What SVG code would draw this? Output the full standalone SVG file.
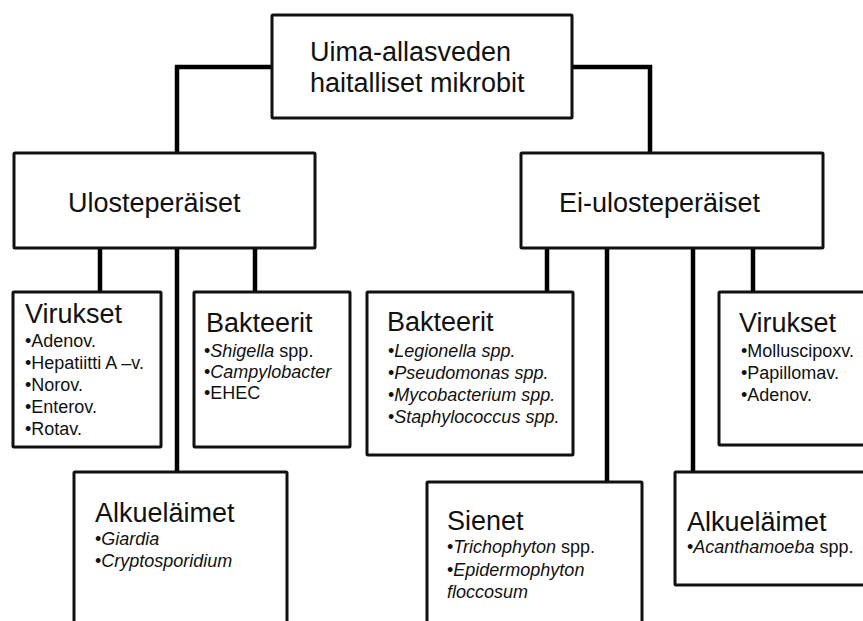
<svg xmlns="http://www.w3.org/2000/svg" width="863" height="621" viewBox="0 0 863 621">
<style>
.box{fill:#fff;stroke:#111;stroke-width:3}
.con{stroke:#000;stroke-width:4.5;fill:none;stroke-linecap:butt}
.h{font-family:"Liberation Sans",Arial,sans-serif;font-size:27px;fill:#111}
.it{font-family:"Liberation Sans",Arial,sans-serif;font-size:18px;fill:#111}
.i{font-style:italic}
</style>
<rect width="863" height="621" fill="#fff"/>
<g id="connectors">
<path class="con" d="M272 67 H177 V153"/>
<path class="con" d="M572 67 H650 V153"/>
<path class="con" d="M100 248 V292"/>
<path class="con" d="M177 248 V472"/>
<path class="con" d="M255 248 V292"/>
<path class="con" d="M547 248 V292"/>
<path class="con" d="M607 248 V482"/>
<path class="con" d="M693 248 V472"/>
<path class="con" d="M753 248 V292"/>
</g>
<g id="root">
<rect class="box" x="272" y="15" width="300" height="103" rx="1"/>
<text class="h" x="310" y="61">Uima-allasveden</text>
<text class="h" x="310" y="92">haitalliset mikrobit</text>
</g>
<g id="uloste">
<rect class="box" x="14" y="153" width="301" height="95" rx="1"/>
<text class="h" x="68" y="212">Ulosteperäiset</text>
</g>
<g id="eiuloste">
<rect class="box" x="521" y="153" width="302" height="95" rx="1"/>
<text class="h" x="559" y="212">Ei-ulosteperäiset</text>
</g>
<g id="virukset1">
<rect class="box" x="13" y="292" width="148" height="155" rx="1"/>
<text class="h" x="25" y="323">Virukset</text>
<text class="it" x="25" y="347">•Adenov.</text>
<text class="it" x="25" y="369">•Hepatiitti A –v.</text>
<text class="it" x="25" y="391">•Norov.</text>
<text class="it" x="25" y="413">•Enterov.</text>
<text class="it" x="25" y="435">•Rotav.</text>
</g>
<g id="bakteerit1">
<rect class="box" x="194" y="292" width="156" height="155" rx="1"/>
<text class="h" x="206" y="332">Bakteerit</text>
<text class="it" x="204" y="357">•<tspan class="i">Shigella</tspan> spp.</text>
<text class="it" x="204" y="378">•<tspan class="i">Campylobacter</tspan></text>
<text class="it" x="204" y="399">•EHEC</text>
</g>
<g id="alkuelaimet1">
<rect class="box" x="74" y="472" width="213" height="160" rx="1"/>
<text class="h" x="95" y="522">Alkueläimet</text>
<text class="it" x="95" y="545">•<tspan class="i">Giardia</tspan></text>
<text class="it" x="95" y="567">•<tspan class="i">Cryptosporidium</tspan></text>
</g>
<g id="bakteerit2">
<rect class="box" x="367" y="292" width="206" height="163" rx="1"/>
<text class="h" x="387" y="331">Bakteerit</text>
<text class="it" x="388" y="357">•<tspan class="i">Legionella spp.</tspan></text>
<text class="it" x="388" y="379">•<tspan class="i">Pseudomonas spp.</tspan></text>
<text class="it" x="388" y="401">•<tspan class="i">Mycobacterium spp.</tspan></text>
<text class="it" x="388" y="423">•<tspan class="i">Staphylococcus spp.</tspan></text>
</g>
<g id="sienet">
<rect class="box" x="427" y="482" width="215" height="150" rx="1"/>
<text class="h" x="447" y="530">Sienet</text>
<text class="it" x="447" y="553">•<tspan class="i">Trichophyton</tspan> spp.</text>
<text class="it" x="447" y="576">•<tspan class="i">Epidermophyton</tspan></text>
<text class="it i" x="447" y="598">floccosum</text>
</g>
<g id="virukset2">
<rect class="box" x="719" y="292" width="160" height="153" rx="1"/>
<text class="h" x="739" y="332">Virukset</text>
<text class="it" x="741" y="357">•Molluscipoxv.</text>
<text class="it" x="741" y="379">•Papillomav.</text>
<text class="it" x="741" y="401">•Adenov.</text>
</g>
<g id="alkuelaimet2">
<rect class="box" x="675" y="472" width="200" height="113" rx="1"/>
<text class="h" x="687" y="531">Alkueläimet</text>
<text class="it" x="687" y="553">•<tspan class="i">Acanthamoeba</tspan> spp.</text>
</g>
</svg>
